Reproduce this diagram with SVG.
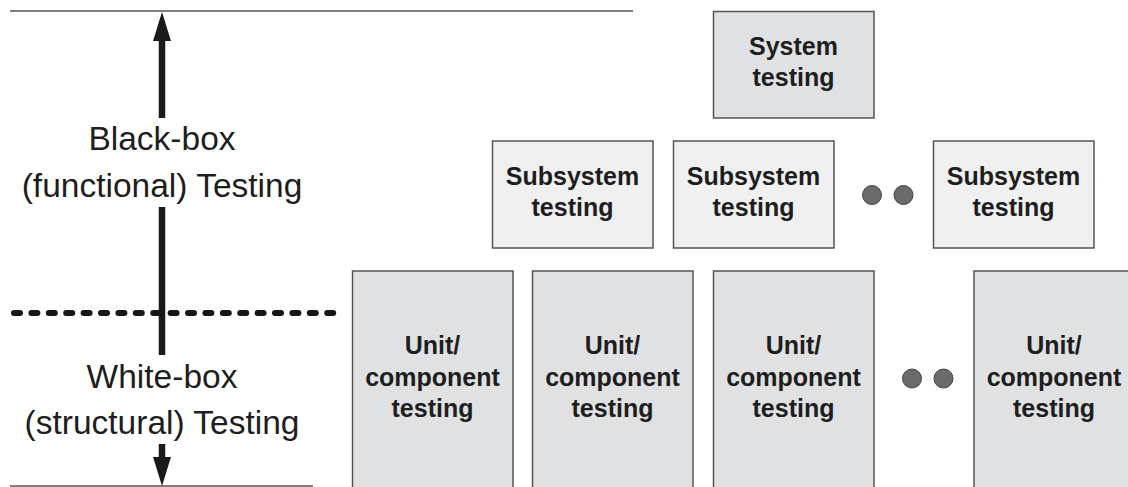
<svg xmlns="http://www.w3.org/2000/svg" width="1128" height="487" viewBox="0 0 1128 487">
  <style>
    .rule { stroke: #555; stroke-width: 1.5; fill: none; }
    .shaft { stroke: #1a1a1a; stroke-width: 6.5; fill: none; }
    .head { fill: #1a1a1a; }
    .axis-label { font-family: "Liberation Sans", Arial, sans-serif; font-size: 33.5px; fill: #1e1e1e; text-anchor: middle; }
    .box-dark { fill: #e0e1e3; stroke: #555; stroke-width: 1.5; }
    .box-light { fill: #f0f0f0; stroke: #555; stroke-width: 1.5; }
    .box-label { font-family: "Liberation Sans", Arial, sans-serif; font-size: 25px; font-weight: bold; fill: #1e1e1e; text-anchor: middle; }
    .dot { fill: #6b6b6b; stroke: #444; stroke-width: 1; }
  </style>

  <!-- Scale: horizontal rules, vertical double arrow and the dashed boundary -->
  <g id="connectors">
    <line class="rule" x1="10" y1="11" x2="633" y2="11"/>
    <line class="rule" x1="10" y1="486" x2="313" y2="486"/>

    <line class="shaft" x1="162" y1="40" x2="162" y2="118"/>
    <line class="shaft" x1="162" y1="207" x2="162" y2="355"/>
    <polygon class="head" points="162,12 171,41 153,41"/>

    <line class="shaft" x1="162" y1="444" x2="162" y2="458"/>
    <polygon class="head" points="162,486 171,457 153,457"/>

    <line x1="14" y1="313" x2="333.2" y2="313" stroke="#161616" stroke-width="6" stroke-linecap="round" stroke-dasharray="6 11.4"/>
  </g>

  <g id="black-box-label">
    <text class="axis-label" x="162" y="150">Black-box</text>
    <text class="axis-label" x="162" y="197">(functional) Testing</text>
  </g>

  <g id="white-box-label">
    <text class="axis-label" x="162" y="388">White-box</text>
    <text class="axis-label" x="162" y="434">(structural) Testing</text>
  </g>

  <g id="system-testing">
    <rect class="box-dark" x="713.5" y="11.5" width="160.5" height="106.5"/>
    <text class="box-label" x="793.5" y="55">System</text>
    <text class="box-label" x="793.5" y="86">testing</text>
  </g>

  <g id="subsystem-testing-1">
    <rect class="box-light" x="492.5" y="141" width="160.5" height="107"/>
    <text class="box-label" x="572.5" y="185">Subsystem</text>
    <text class="box-label" x="572.5" y="216">testing</text>
  </g>

  <g id="subsystem-testing-2">
    <rect class="box-light" x="673.5" y="141" width="160.5" height="107"/>
    <text class="box-label" x="753.5" y="185">Subsystem</text>
    <text class="box-label" x="753.5" y="216">testing</text>
  </g>

  <g id="subsystem-ellipsis">
    <circle class="dot" cx="872" cy="195" r="9.5"/>
    <circle class="dot" cx="903.5" cy="195" r="9.5"/>
  </g>

  <g id="subsystem-testing-3">
    <rect class="box-light" x="933.5" y="141" width="160.5" height="107"/>
    <text class="box-label" x="1013.5" y="185">Subsystem</text>
    <text class="box-label" x="1013.5" y="216">testing</text>
  </g>

  <g id="unit-testing-1">
    <rect class="box-dark" x="352.5" y="271" width="160.5" height="222"/>
    <text class="box-label" x="432.5" y="354">Unit/</text>
    <text class="box-label" x="432.5" y="386">component</text>
    <text class="box-label" x="432.5" y="417">testing</text>
  </g>

  <g id="unit-testing-2">
    <rect class="box-dark" x="532.5" y="271" width="160.5" height="222"/>
    <text class="box-label" x="612.5" y="354">Unit/</text>
    <text class="box-label" x="612.5" y="386">component</text>
    <text class="box-label" x="612.5" y="417">testing</text>
  </g>

  <g id="unit-testing-3">
    <rect class="box-dark" x="713.5" y="271" width="160.5" height="222"/>
    <text class="box-label" x="793.5" y="354">Unit/</text>
    <text class="box-label" x="793.5" y="386">component</text>
    <text class="box-label" x="793.5" y="417">testing</text>
  </g>

  <g id="unit-ellipsis">
    <circle class="dot" cx="912" cy="378.5" r="9.5"/>
    <circle class="dot" cx="943.5" cy="378.5" r="9.5"/>
  </g>

  <g id="unit-testing-4">
    <rect class="box-dark" x="974" y="271" width="160.5" height="222"/>
    <text class="box-label" x="1054" y="354">Unit/</text>
    <text class="box-label" x="1054" y="386">component</text>
    <text class="box-label" x="1054" y="417">testing</text>
  </g>
</svg>
